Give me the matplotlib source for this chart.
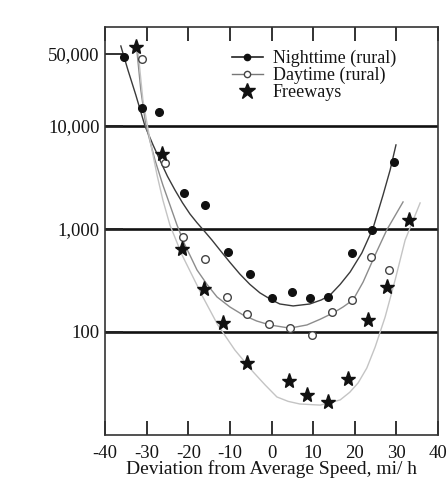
import matplotlib
matplotlib.use("Agg")
import matplotlib.pyplot as plt
from matplotlib.lines import Line2D

plt.rcParams['font.family'] = ['Liberation Serif', 'DejaVu Serif']

# Measured points
night_x = [-35.5, -31, -27, -21, -16, -10.5, -5.2, 0.1, 4.9, 9.2, 13.6, 19.3, 24.2, 29.4]
night_y = [47000, 15000, 13700, 2240, 1710, 600, 365, 214, 245, 214, 219, 585, 980, 4460]

day_x = [-31, -25.6, -21.3, -16.0, -10.7, -5.9, -0.6, 4.4, 9.7, 14.5, 19.3, 23.9, 28.2]
day_y = [45000, 4390, 836, 511, 219, 150, 120, 109, 94, 156, 205, 534, 400]

free_x = [-32.5, -26.3, -21.5, -16.2, -11.6, -5.9, 4.2, 8.5, 13.6, 18.4, 23.2, 27.7, 33.0]
free_y = [58000, 5380, 640, 261, 122, 50, 33.4, 24.5, 21, 35, 131, 274, 1220]

# Fitted curves
night_cx = [-36.2, -34.5, -32.6, -30.4, -28.5, -26.8, -25.0, -23.2, -21.4, -19.6, -17.9, -16.2,
            -14.3, -12.4, -10.0, -7.6, -5.2, -2.8, 0.0, 2.0, 5.2, 9.2, 12.0, 14.1, 16.5,
            18.9, 21.7, 24.4, 26.8, 28.5, 29.9]
night_cy = [59800, 35000, 20000, 10000, 6600, 4650, 3250, 2390, 1800, 1400, 1150, 960,
            780, 625, 475, 365, 290, 240, 205, 187, 179, 187, 205, 229, 290,
            383, 585, 1020, 2140, 3740, 6550]

day_cx = [-32.3, -31.4, -30.2, -28.0, -26.1, -24.4, -22.7, -20.8, -19.3, -17.9, -15.5, -13.1,
          -10.0, -6.8, -3.6, -0.4, 4.4, 8.5, 11.7, 14.8, 17.2, 19.6, 22.0, 24.9, 27.7, 31.6]
day_cy = [52000, 22400, 10200, 4680, 2670, 1710, 1090, 700, 525, 400, 290, 219,
          175, 146, 128, 117, 109, 117, 133, 153, 175, 205, 305, 560, 980, 1830]

free_cx = [-32.1, -30.9, -29.2, -27.5, -26.1, -24.4, -21.5, -19.1, -16.5, -12.9, -8.8,
           -4.4, -1.5, 1.3, 4.0, 6.8, 11.7, 16.5, 18.8, 20.8, 22.9, 24.9, 27.3, 29.7, 32.1, 35.7]
free_cy = [54700, 17900, 7310, 3340, 1910, 1090, 560, 357, 219, 117, 66.8,
           40.9, 30.5, 23.4, 21.2, 20.0, 19.5, 21.9, 26.0, 32, 44.7, 71.5, 140, 320, 780, 1790]

x_ticks = [-40, -30, -20, -10, 0, 10, 20, 30, 40]
x_ticklabels = ['-40', '-30', '-20', '-10', '0', '10', '20', '30', '40']
y_ticks = [100, 1000, 10000, 50000]
y_ticklabels = ['100', '1,000', '10,000', '50,000']
grid_levels = [100, 1000, 10000]

labels = ['Nighttime (rural)', 'Daytime (rural)', 'Freeways']

TXT = '#151515'
fig = plt.figure(figsize=(4.48, 4.83), dpi=100)
ax = fig.add_axes([0.2344, 0.0994, 0.7433, 0.8447])
ax.set_yscale('log')
ax.set_xlim(-40, 40)
ax.set_ylim(10, 91400)

for lv in grid_levels:
    ax.axhline(lv, color='#111111', lw=1.9, zorder=1)

ax.plot(night_cx, night_cy, color='#3a3a3a', lw=1.0, zorder=2)
ax.plot(day_cx, day_cy, color='#8c8c8c', lw=1.0, zorder=2)
ax.plot(free_cx, free_cy, color='#c4c4c4', lw=1.0, zorder=2)

ax.plot(night_x, night_y, 'o', ms=5.5, color='#111111', ls='none', zorder=3)
ax.plot(day_x, day_y, 'o', ms=5.5, mfc='white', mec='#444444', mew=1.0, ls='none', zorder=3)
ax.plot(free_x, free_y, '*', ms=11, color='#111111', ls='none', zorder=3)

ax.set_xticks(x_ticks)
ax.set_xticklabels(x_ticklabels, fontsize=13.5, color=TXT)
ax.set_yticks(y_ticks)
ax.set_yticklabels(y_ticklabels, fontsize=13.5, color=TXT)
ax.minorticks_off()
ax.yaxis.set_minor_locator(matplotlib.ticker.NullLocator())
ax.tick_params(axis='x', direction='in', length=10, width=1.3, top=True, bottom=True,
               color='#222222', pad=7)
ax.tick_params(axis='y', direction='in', length=13, width=1.3, color='#222222', pad=4)
for sp in ax.spines.values():
    sp.set_color('#333333')
    sp.set_linewidth(1.2)

ax.set_xlabel('Deviation from Average Speed, mi/ h', fontsize=14, color=TXT, labelpad=-1)

handles = [
    Line2D([], [], color='#222222', lw=1.2, marker='o', ms=4.5, mfc='#111111', mec='#111111'),
    Line2D([], [], color='#777777', lw=1.0, marker='o', ms=4.5, mfc='white', mec='#444444'),
    Line2D([], [], ls='none', marker='*', ms=12, color='#111111'),
]
leg = ax.legend(handles, labels, loc='upper left', bbox_to_anchor=(0.36, 0.962),
                frameon=False, fontsize=13, handlelength=1.7, handletextpad=0.55,
                labelspacing=0.0, borderaxespad=0)
for t in leg.get_texts():
    t.set_color(TXT)

fig.savefig('out.png', dpi=100)
